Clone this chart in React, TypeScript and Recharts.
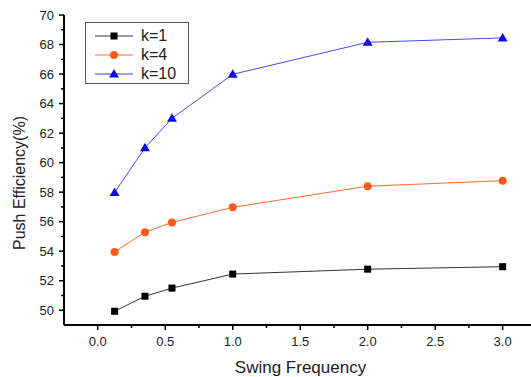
import React from 'react';
import { LineChart, Line, XAxis, YAxis, Legend } from 'recharts';

const frequency = [0.125, 0.35, 0.55, 1.0, 2.0, 3.0];
const k1 = [49.93, 50.95, 51.5, 52.45, 52.78, 52.95];
const k4 = [53.95, 55.28, 55.95, 56.97, 58.4, 58.78];
const k10 = [57.98, 61.0, 63.0, 65.98, 68.15, 68.45];
const xTicks = [0, 0.25, 0.5, 0.75, 1, 1.25, 1.5, 1.75, 2, 2.25, 2.5, 2.75, 3];
const yTicks = [50, 51, 52, 53, 54, 55, 56, 57, 58, 59, 60, 61, 62, 63, 64, 65, 66, 67, 68, 69, 70];

const data = frequency.map((f, i) => ({ f, k1: k1[i], k4: k4[i], k10: k10[i] }));

const FONT = '"Liberation Sans", Arial, sans-serif';

const XTick = (props: any) => {
  const { x, y, payload } = props;
  const v = payload.value;
  const major = Math.abs(v * 2 - Math.round(v * 2)) < 1e-6;
  return (
    <g>
      <line x1={x} x2={x} y1={y} y2={y + (major ? 5 : 3)} stroke="#000" strokeWidth={1.5} />
      {major && (
        <text x={x} y={y + 21} textAnchor="middle" fontSize={13} fill="#222" fontFamily={FONT}>
          {v.toFixed(1)}
        </text>
      )}
    </g>
  );
};

const YTick = (props: any) => {
  const { x, y, payload } = props;
  const v = payload.value;
  const major = v % 2 === 0;
  return (
    <g>
      <line x1={x} x2={x - (major ? 5 : 3)} y1={y} y2={y} stroke="#000" strokeWidth={1.5} />
      {major && (
        <text x={x - 10} y={y + 4.5} textAnchor="end" fontSize={13} fill="#222" fontFamily={FONT}>
          {v}
        </text>
      )}
    </g>
  );
};

const XTitle = (props: any) => {
  const vb = props.viewBox;
  return (
    <text x={vb.x + vb.width / 2 + 3} y={vb.y + 48} textAnchor="middle" fontSize={17} fill="#222" fontFamily={FONT}>
      Swing Frequency
    </text>
  );
};

const YTitle = (props: any) => {
  const vb = props.viewBox;
  const cx = vb.x + 19;
  const cy = vb.y + vb.height / 2 + 13;
  return (
    <text
      x={cx}
      y={cy}
      transform={`rotate(-90, ${cx}, ${cy})`}
      textAnchor="middle"
      dominantBaseline="central"
      fontSize={16}
      fill="#222"
      fontFamily={FONT}
    >
      Push Efficiency(%)
    </text>
  );
};

const Square = (props: any) => {
  const { cx, cy, index } = props;
  return <rect key={index} x={cx - 3.5} y={cy - 3.5} width={7} height={7} fill="#000" />;
};
const Circle = (props: any) => {
  const { cx, cy, index } = props;
  return <circle key={index} cx={cx} cy={cy} r={4} fill="#ff5a1a" />;
};
const Tri = (props: any) => {
  const { cx, cy, index } = props;
  return <polygon key={index} points={`${cx},${cy - 5} ${cx - 5},${cy + 3.5} ${cx + 5},${cy + 3.5}`} fill="#0a0ae6" />;
};

const legendItems = [
  { name: 'k=1', color: '#333', marker: 'sq' },
  { name: 'k=4', color: '#ff6a33', marker: 'ci' },
  { name: 'k=10', color: '#3a3aee', marker: 'tr' },
];

const LegendBox = () => (
  <div
    style={{
      border: '1px solid #555',
      background: '#fff',
      width: 104,
      height: 62,
      boxSizing: 'border-box',
      fontFamily: FONT,
      paddingTop: 3,
    }}
  >
    {legendItems.map((it) => (
      <div key={it.name} style={{ display: 'flex', alignItems: 'center', height: 19 }}>
        <svg width={52} height={12} style={{ marginLeft: 6 }}>
          <line x1={3} x2={41} y1={6} y2={6} stroke={it.color} strokeWidth={1} />
          {it.marker === 'sq' && <rect x={18.5} y={2.5} width={7} height={7} fill="#000" />}
          {it.marker === 'ci' && <circle cx={22} cy={6} r={4} fill="#ff5a1a" />}
          {it.marker === 'tr' && <polygon points="22,1 17,9.5 27,9.5" fill="#0a0ae6" />}
        </svg>
        <span style={{ fontSize: 16, color: '#222', marginLeft: -3 }}>{it.name}</span>
      </div>
    ))}
  </div>
);

export default function App() {
  return (
    <div style={{ position: 'absolute', left: 0, top: 0, width: 531, height: 377, background: '#fff' }}>
      <LineChart width={531} height={377} data={data} margin={{ top: 15, right: 0, bottom: 0, left: 0 }}>
        <XAxis
          type="number"
          dataKey="f"
          domain={[-0.25, 3.21]}
          ticks={xTicks}
          interval={0}
          allowDataOverflow
          height={52}
          tickSize={0}
          tickMargin={0}
          tickLine={false}
          tick={<XTick />}
          axisLine={{ stroke: '#000', strokeWidth: 2 }}
          label={<XTitle />}
        />
        <YAxis
          type="number"
          domain={[49, 70]}
          ticks={yTicks}
          interval={0}
          allowDataOverflow
          width={64}
          tickSize={0}
          tickMargin={0}
          tickLine={false}
          tick={<YTick />}
          axisLine={{ stroke: '#000', strokeWidth: 2 }}
          label={<YTitle />}
        />
        <Legend
          layout="vertical"
          align="center"
          verticalAlign="middle"
          content={<LegendBox />}
          wrapperStyle={{ left: 85, top: 22, width: 104, height: 62 }}
        />
        <Line dataKey="k1" stroke="#333" strokeWidth={1} dot={<Square />} isAnimationActive={false} />
        <Line dataKey="k4" stroke="#ff6a33" strokeWidth={1} dot={<Circle />} isAnimationActive={false} />
        <Line dataKey="k10" stroke="#4a4aee" strokeWidth={1} dot={<Tri />} isAnimationActive={false} />
      </LineChart>
    </div>
  );
}
